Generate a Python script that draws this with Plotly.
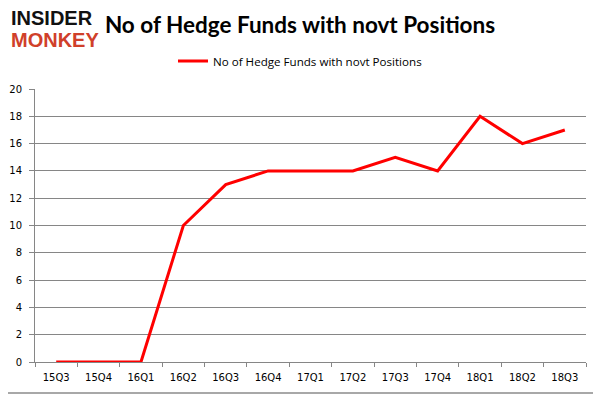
import plotly.graph_objects as go

quarters = ["15Q3", "15Q4", "16Q1", "16Q2", "16Q3", "16Q4", "17Q1", "17Q2", "17Q3", "17Q4", "18Q1", "18Q2", "18Q3"]
funds = [0, 0, 0, 10, 13, 14, 14, 14, 15, 14, 18, 16, 17]
series_name = "No of Hedge Funds with novt Positions"
y_ticks = [0, 2, 4, 6, 8, 10, 12, 14, 16, 18, 20]

# page body has an 8px margin: figure drawn at (8,8)
OFF = 8
W, H = 601 - OFF, 395 - OFF
# reference plot area: x 35..586, y 89..362 (page coords)
ml, mt = 35 - OFF, 89 - OFF
mr = W - (586 - OFF)
mb = H - (362 - OFF)
pw, ph = W - ml - mr, H - mt - mb

def px(xp):  # page x -> paper x
    return (xp - OFF - ml) / pw

def py(yp):  # page y -> paper y
    return 1 - (yp - OFF - mt) / ph

fig = go.Figure()
fig.add_trace(go.Scatter(x=quarters, y=funds, mode="lines", name=series_name,
                         line=dict(color="#ff0000", width=3)))

grid = "#868686"
fig.update_layout(
    width=W, height=H,
    margin=dict(l=ml, r=mr, t=mt, b=mb, autoexpand=False),
    paper_bgcolor="white", plot_bgcolor="white",
    showlegend=True,
    legend=dict(orientation="h", x=px(300), xanchor="center", y=py(61), yanchor="middle",
                font=dict(family="Open Sans", size=11.6, color="#000"), bgcolor="rgba(0,0,0,0)",
                itemwidth=30),
    title=dict(text="<b>No of Hedge Funds with novt Positions</b>", x=(300 - OFF) / W, xanchor="center",
               y=1 - (25 - OFF) / H, yanchor="middle",
               font=dict(family="Lato", size=22.5, color="#000")),
    xaxis=dict(type="category", showgrid=False, showline=True, linecolor=grid, linewidth=1,
               ticks="outside", ticklen=4, tickcolor=grid, tickson="boundaries",
               ticklabelstandoff=6,
               tickfont=dict(family="DejaVu Sans", size=10, color="#000"), range=[-0.5, 12.5]),
    yaxis=dict(range=[0, 20], tickvals=y_ticks, showgrid=True, gridcolor=grid, gridwidth=1,
               showline=True, linecolor=grid, linewidth=1, ticks="outside", ticklen=5, tickcolor=grid,
               ticklabelstandoff=5,
               tickfont=dict(family="DejaVu Sans", size=10, color="#000"), zeroline=False),
    shapes=[dict(type="rect", xref="paper", yref="paper",
                 x0=px(0.5), x1=px(598), y0=py(393), y1=py(0.5),
                 line=dict(color="#8c8c8c", width=1.5), fillcolor="rgba(0,0,0,0)")],
    annotations=[
        dict(text="<b>INSIDER</b>", xref="paper", yref="paper", x=px(9), xanchor="left",
             y=py(18), yanchor="middle", showarrow=False,
             font=dict(family="Liberation Sans", size=20, color="#111")),
        dict(text="<b>MONKEY</b>", xref="paper", yref="paper", x=px(9), xanchor="left",
             y=py(40), yanchor="middle", showarrow=False,
             font=dict(family="Liberation Sans", size=20, color="#d0402a")),
    ],
)
fig.write_html("out.html")
